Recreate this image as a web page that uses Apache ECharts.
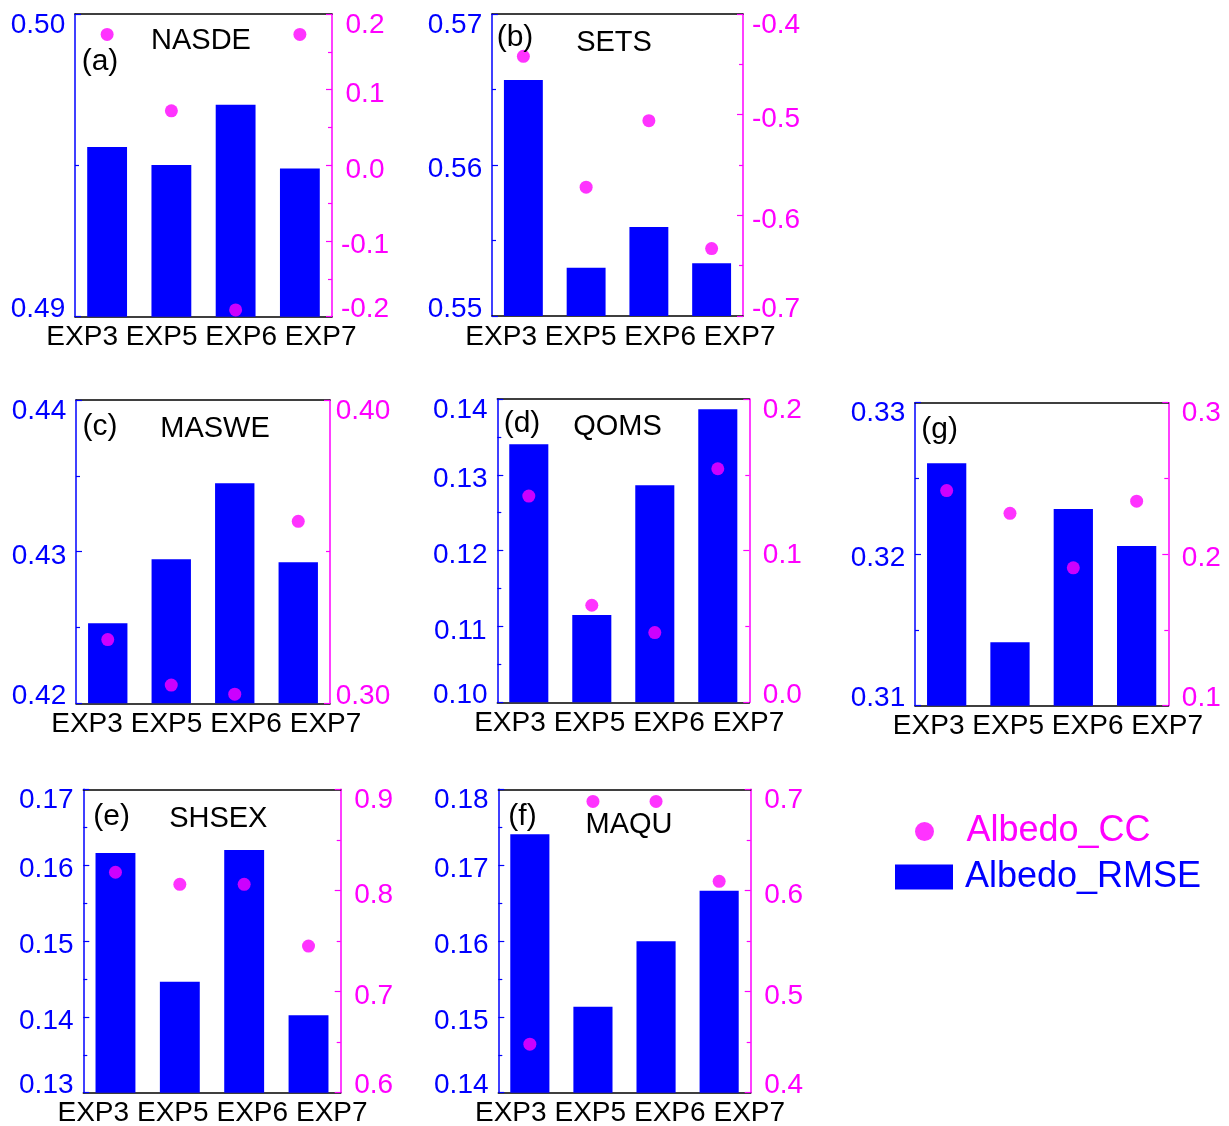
<!DOCTYPE html>
<html><head><meta charset="utf-8">
<script src="https://cdn.jsdelivr.net/npm/echarts@6/dist/echarts.min.js"></script>
<style>html,body{margin:0;padding:0;background:#fff}#c{width:1229px;height:1126px}</style>
</head><body><div id="c"></div>
<script>
// ---------- data ----------
const categories = ['EXP3', 'EXP5', 'EXP6', 'EXP7'];
const panelTags = ['(a)', '(b)', '(c)', '(d)', '(e)', '(f)', '(g)'];
const siteNames = ['NASDE', 'SETS', 'MASWE', 'QOMS', 'SHSEX', 'MAQU', ''];

// Albedo_RMSE (bars, left axis)
const rmseA = [0.49561, 0.49501, 0.49700, 0.49490];
const rmseB = [0.56563, 0.55320, 0.55589, 0.55349];
const rmseC = [0.42528, 0.42950, 0.43451, 0.42930];
const rmseD = [0.13403, 0.11151, 0.12862, 0.13864];
const rmseE = [0.16160, 0.14463, 0.16200, 0.14020];
const rmseF = [0.17407, 0.15134, 0.15996, 0.16663];
const rmseG = [0.32600, 0.31418, 0.32298, 0.32054];

// Albedo_CC (dots, right axis)
const ccA = [0.173, 0.072, -0.191, 0.173];
const ccB = [-0.442, -0.572, -0.506, -0.633];
const ccC = [0.321, 0.306, 0.303, 0.360];
const ccD = [0.136, 0.064, 0.046, 0.154];
const ccE = [0.818, 0.806, 0.806, 0.745];
const ccF = [0.448, 0.688, 0.688, 0.609];
const ccG = [0.242, 0.227, 0.191, 0.235];

// axis ranges: [min, max, interval, decimals of tick labels]
const rmseAxisA = [0.49, 0.50, 0.01, 2];
const rmseAxisB = [0.55, 0.57, 0.01, 2];
const rmseAxisC = [0.42, 0.44, 0.01, 2];
const rmseAxisD = [0.10, 0.14, 0.01, 2];
const rmseAxisE = [0.13, 0.17, 0.01, 2];
const rmseAxisF = [0.14, 0.18, 0.01, 2];
const rmseAxisG = [0.31, 0.33, 0.01, 2];
const ccAxisA = [-0.2, 0.2, 0.1, 1];
const ccAxisB = [-0.7, -0.4, 0.1, 1];
const ccAxisC = [0.30, 0.40, 0.1, 2];
const ccAxisD = [0.0, 0.2, 0.1, 1];
const ccAxisE = [0.6, 0.9, 0.1, 1];
const ccAxisF = [0.4, 0.7, 0.1, 1];
const ccAxisG = [0.1, 0.3, 0.1, 1];

// ---------- layout (positions only) ----------
const FONT = '"Liberation Sans", Arial, sans-serif';
const BLUE = '#0000ff';
const MAGENTA = '#ff00ff';
const layout = [
  {box: [75, 14, 332, 316.7], labelCenter: 201.4, tag: [100, 61.5], title: [201, 41]},
  {box: [492, 14, 743, 316], labelCenter: 620.4, tag: [515, 37.5], title: [614, 43]},
  {box: [76, 400, 330, 703.3], labelCenter: 206.3, tag: [100, 426.5], title: [215, 429]},
  {box: [497.3, 399, 749.3, 702.3], labelCenter: 629.2, tag: [522, 423.5], title: [617.5, 427]},
  {box: [83.3, 789.3, 340.7, 1092.7], labelCenter: 212.5, tag: [111.7, 816.5], title: [218.3, 819]},
  {box: [498.3, 789.3, 750.7, 1092.7], labelCenter: 630, tag: [522.5, 816.5], title: [629, 825]},
  {box: [915, 402.7, 1168.3, 705.7], labelCenter: 1047.9, tag: [939.7, 429.5], title: [1040, 429]}
];
const rmseList = [rmseA, rmseB, rmseC, rmseD, rmseE, rmseF, rmseG];
const ccList = [ccA, ccB, ccC, ccD, ccE, ccF, ccG];
const rmseAxes = [rmseAxisA, rmseAxisB, rmseAxisC, rmseAxisD, rmseAxisE, rmseAxisF, rmseAxisG];
const ccAxes = [ccAxisA, ccAxisB, ccAxisC, ccAxisD, ccAxisE, ccAxisF, ccAxisG];

function valueAxis(gridIndex, pos, ax, color) {
  const [min, max, interval, dec] = ax;
  const base = {fontSize: 28, fontFamily: FONT, color: color};
  return {
    gridIndex, type: 'value', position: pos, min, max, interval,
    axisLine: {show: true, onZero: false, lineStyle: {color, width: 1.5}},
    axisTick: {show: true, inside: true, length: 6, lineStyle: {color, width: 1.2}},
    minorTick: {show: true, splitNumber: 2, length: 4, lineStyle: {color, width: 1.2}},
    splitLine: {show: false}, minorSplitLine: {show: false},
    axisLabel: Object.assign({}, base, {
      margin: pos === 'left' ? 37 : 33,
      align: 'center',
      formatter: function (v) {
        if (Math.abs(v) < 1e-9) v = 0;
        const s = v.toFixed(dec);
        if (Math.abs(v - max) < 1e-9) return '{t|' + s + '}';
        if (Math.abs(v - min) < 1e-9) return '{b|' + s + '}';
        return '{n|' + s + '}';
      },
      rich: {
        n: Object.assign({}, base, {padding: [9, 0, 0, 0]}),
        t: Object.assign({}, base, {padding: [22, 0, 0, 0]}),
        b: Object.assign({}, base, {padding: [0, 0, 14, 0]})
      }
    })
  };
}

const grid = [], xAxis = [], yAxis = [], series = [], graphic = [];
layout.forEach(function (L, i) {
  const b = L.box;
  const g = grid.length;
  grid.push({left: b[0], top: b[1], width: b[2] - b[0], height: b[3] - b[1], containLabel: false, outerBoundsMode: 'none'});
  grid.push({left: L.labelCenter - 159, top: b[3] - 10, width: 318, height: 10, containLabel: false, outerBoundsMode: 'none'});
  const xb = xAxis.length;
  xAxis.push({gridIndex: g, type: 'category', data: categories, position: 'bottom',
    axisLine: {show: true, onZero: false, lineStyle: {color: '#000', width: 1.5}},
    axisTick: {show: false}, axisLabel: {show: false}, splitLine: {show: false}});
  xAxis.push({gridIndex: g, type: 'category', data: categories, position: 'top',
    axisLine: {show: true, onZero: false, lineStyle: {color: '#000', width: 1.5}},
    axisTick: {show: false}, axisLabel: {show: false}, splitLine: {show: false}});
  xAxis.push({gridIndex: g + 1, type: 'category', data: categories, position: 'bottom',
    axisLine: {show: false, onZero: false}, axisTick: {show: false}, splitLine: {show: false},
    axisLabel: {interval: 0, margin: 7, fontSize: 28, fontFamily: FONT, color: '#000'}});
  const yb = yAxis.length;
  yAxis.push(valueAxis(g, 'left', rmseAxes[i], BLUE));
  yAxis.push(valueAxis(g, 'right', ccAxes[i], MAGENTA));
  yAxis.push({gridIndex: g + 1, type: 'value', show: false});
  series.push({type: 'bar', name: 'Albedo_RMSE', xAxisIndex: xb, yAxisIndex: yb,
    data: rmseList[i], barWidth: '62%', itemStyle: {color: BLUE}, z: 2});
  series.push({type: 'scatter', name: 'Albedo_CC', xAxisIndex: xb, yAxisIndex: yb + 1,
    data: ccList[i], symbol: 'circle', symbolSize: 13, itemStyle: {color: MAGENTA}, z: 3});
  graphic.push({type: 'text', x: L.tag[0], y: L.tag[1], z: 10,
    style: {text: panelTags[i], fontSize: 30, fontFamily: FONT, fill: '#000', align: 'center', verticalAlign: 'middle'}});
  if (siteNames[i]) {
    graphic.push({type: 'text', x: L.title[0], y: L.title[1], z: 10,
      style: {text: siteNames[i], fontSize: 29, fontFamily: FONT, fill: '#000', align: 'center', verticalAlign: 'middle'}});
  }
});

const option = {
  animation: false,
  backgroundColor: '#fff',
  grid, xAxis, yAxis, series, graphic,
  legend: [
    {data: [{name: 'Albedo_CC', icon: 'circle'}], left: 915, top: 813.5, padding: 0, orient: 'vertical',
      itemWidth: 58, itemHeight: 19, selectedMode: false,
      textStyle: {color: MAGENTA, fontSize: 36, fontFamily: FONT, padding: [0, 0, 0, 8]}},
    {data: [{name: 'Albedo_RMSE', icon: 'rect'}], left: 895, top: 859, padding: 0, orient: 'vertical',
      itemWidth: 58, itemHeight: 25, selectedMode: false,
      textStyle: {color: BLUE, fontSize: 36, fontFamily: FONT, padding: [0, 0, 0, 7]}}
  ]
};
const chart = echarts.init(document.getElementById('c'), null, {renderer: 'canvas'});
chart.setOption(option);
</script>
</body></html>
